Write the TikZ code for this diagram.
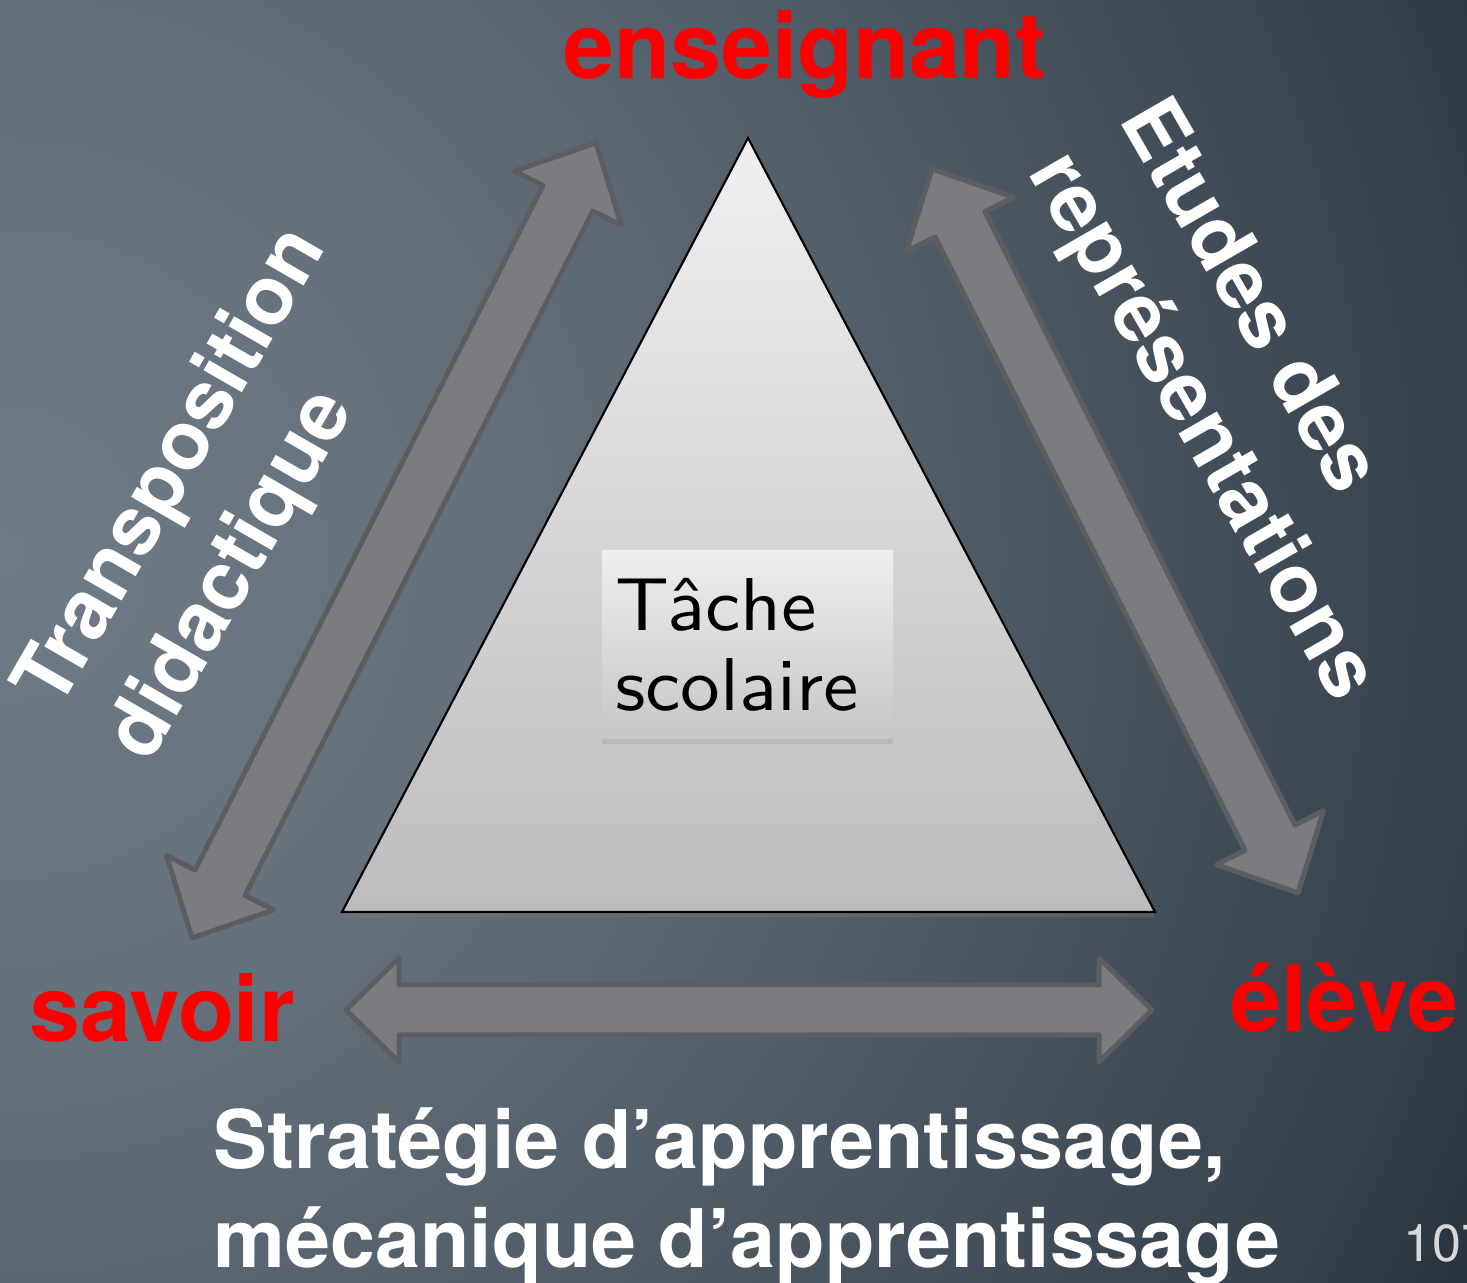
\documentclass[tikz,border=0pt]{standalone}
\usepackage{fontspec}
\setmainfont{TeX Gyre Heros}
\newfontfamily\tachefont{lmsans10-regular}[Extension=.otf, FakeStretch=1.06]
\usepackage{tikz}
\usetikzlibrary{calc,shadows}

\definecolor{bgA}{HTML}{6F7C87}
\definecolor{bgB}{HTML}{64717C}
\definecolor{bgC}{HTML}{5A6671}
\definecolor{bgD}{HTML}{4F5B66}
\definecolor{bgE}{HTML}{36424D}
\definecolor{bgF}{HTML}{222D38}
\definecolor{arrowfill}{HTML}{7B7C81}
\definecolor{arrowline}{HTML}{5C5D61}
\definecolor{pagegray}{HTML}{D8D8D8}

% 25bp is the rim of the shaded circle
\pgfdeclareradialshading{slideglow}{\pgfpoint{0bp}{0bp}}%
  {color(0bp)=(bgA); color(7bp)=(bgB); color(10.5bp)=(bgC); color(14bp)=(bgD);
   color(21.5bp)=(bgE); color(25bp)=(bgF); color(50bp)=(bgF)}

\tikzset{
  blockarrow/.style={fill=arrowfill, draw=arrowline, line width=0.05cm, line join=round},
  corner/.style={text=red, font=\fontsize{26}{30}\selectfont\bfseries, inner sep=0pt},
  sidetext/.style={text=white, font=\fontsize{23.3}{29.8}\selectfont\bfseries, align=left, inner sep=0pt},
  tache/.style={rectangle, minimum width=2.91cm, minimum height=1.88cm, text width=2.65cm,
    inner sep=0.13cm, align=left, top color=black!7, bottom color=black!22,
    font=\tachefont\fontsize{21.3}{22.8}\selectfont,
    drop shadow={shadow xshift=0pt, shadow yshift=-1.5pt, opacity=0.2}},
}

% double block arrow: from, to, head length, head half width, shaft half width
\newcommand\dblarrow[5]{%
  \draw[blockarrow] (#1)
    -- ($(#1)!#3!(#2)!#4!90:(#2)$) -- ($(#1)!#3!(#2)!#5!90:(#2)$)
    -- ($(#2)!#3!(#1)!#5!-90:(#1)$) -- ($(#2)!#3!(#1)!#4!-90:(#1)$)
    -- (#2)
    -- ($(#2)!#3!(#1)!#4!90:(#1)$) -- ($(#2)!#3!(#1)!#5!90:(#1)$)
    -- ($(#1)!#3!(#2)!#5!-90:(#2)$) -- ($(#1)!#3!(#2)!#4!-90:(#2)$)
    -- cycle;}

\begin{document}
\begin{tikzpicture}
\useasboundingbox (0,0) rectangle (14.67,12.83);

% background
\begin{scope}
  \clip (0,0) rectangle (14.67,12.83);
  \shade[shading=slideglow] (0,7.3) circle (17);
\end{scope}

% arrow ends
\coordinate (lt) at (5.96,11.40);
\coordinate (lb) at (1.92,3.45);
\coordinate (rt) at (9.32,11.14);
\coordinate (rb) at (12.98,3.90);
\coordinate (bl) at (3.46,2.73);
\coordinate (br) at (11.52,2.73);

\dblarrow{lb}{lt}{0.62cm}{0.6cm}{0.28cm}
\dblarrow{rt}{rb}{0.62cm}{0.6cm}{0.28cm}
\dblarrow{bl}{br}{0.53cm}{0.52cm}{0.25cm}

% triangle
\coordinate (apex) at (7.48,11.45);
\coordinate (left) at (3.42,3.71);
\coordinate (right) at (11.55,3.71);
\draw[line width=0.6pt, top color=black!6, bottom color=black!26,
      drop shadow={shadow xshift=0pt, shadow yshift=-1.5pt, opacity=0.35}]
  (apex) -- (left) -- (right) -- cycle;

\node[tache] (task) at (7.475,6.38) {Tâche\\scolaire};

% corners
\node[corner, anchor=base] (ens) at (8.05,12.04) {enseignant};
\node[corner, anchor=base] (sav) at (1.62,2.41) {savoir};
\node[corner, anchor=base west] (elv) at (12.30,2.51) {élève};

% sides
\node[sidetext, rotate=60] (transpo) at (2.19,7.88) {Transposition\\didactique};
\node[sidetext, rotate=-60] (etudes) at (12.45,8.81) {Etudes des\\représentations};
\node[sidetext, font=\fontsize{23}{28.4}\selectfont\bfseries, anchor=base west]
  (strat) at (2.13,0.15) {Stratégie d’apprentissage,\\mécanique d’apprentissage};

\node[text=pagegray, font=\fontsize{14.8}{16}\selectfont, anchor=base west, inner sep=0pt]
  (page) at (14.03,0.21) {107};

\end{tikzpicture}
\end{document}
